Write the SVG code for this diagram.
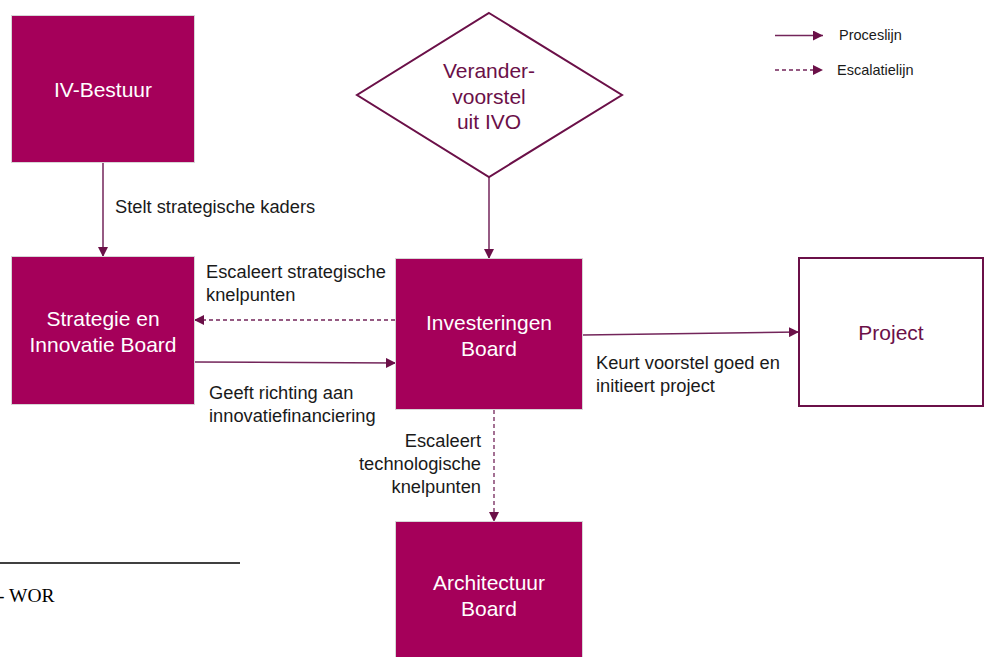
<svg xmlns="http://www.w3.org/2000/svg" width="988" height="657" viewBox="0 0 988 657">
<style>
.box{fill:#a5005a;stroke:#d6d6d6;stroke-width:1}
.nt{font-family:"Liberation Sans",Arial,sans-serif;font-size:21px;fill:#ffffff;text-anchor:middle}
.pt{font-family:"Liberation Sans",Arial,sans-serif;font-size:21px;fill:#6b1048;text-anchor:middle}
.lb{font-family:"Liberation Sans",Arial,sans-serif;font-size:18.3px;fill:#1a1a1a}
.lg{font-family:"Liberation Sans",Arial,sans-serif;font-size:14.5px;fill:#1a1a1a}
.ln{fill:none;stroke:#73255a;stroke-width:1.5}
.dl{fill:none;stroke:#73255a;stroke-width:1.3;stroke-dasharray:4 3}
</style>
<defs>
<marker id="ah" viewBox="0 0 10 10" refX="10" refY="5" markerWidth="10" markerHeight="10" markerUnits="userSpaceOnUse" orient="auto">
<path d="M0,0 L10,5 L0,10 Z" fill="#6b1048"/>
</marker>
</defs>
<rect width="988" height="657" fill="#ffffff"/>
<g id="connectors">
<line class="ln" x1="103" y1="163" x2="103" y2="257" marker-end="url(#ah)"/>
<line class="ln" x1="489" y1="177" x2="489" y2="259" marker-end="url(#ah)"/>
<line class="dl" x1="395" y1="320" x2="194" y2="320" marker-end="url(#ah)"/>
<line class="ln" x1="195" y1="362" x2="396" y2="363" marker-end="url(#ah)"/>
<line class="ln" x1="583" y1="335" x2="799" y2="332" marker-end="url(#ah)"/>
<line class="dl" x1="494" y1="410" x2="494" y2="522" marker-end="url(#ah)"/>
</g>
<g id="legend">
<line class="ln" x1="775" y1="35.5" x2="823" y2="35.5" marker-end="url(#ah)"/>
<text class="lg" x="839" y="40">Proceslijn</text>
<line class="dl" x1="775" y1="70" x2="823" y2="70" marker-end="url(#ah)"/>
<text class="lg" x="837" y="75">Escalatielijn</text>
</g>
<g id="iv-bestuur">
<rect class="box" x="11.5" y="15.5" width="183" height="147"/>
<text class="nt" x="103" y="97">IV-Bestuur</text>
</g>
<g id="strategie">
<rect class="box" x="11.5" y="256.5" width="183" height="148"/>
<text class="nt" x="103" y="326">Strategie en</text>
<text class="nt" x="103" y="352">Innovatie Board</text>
</g>
<g id="verandervoorstel">
<polygon points="489,13 622,95 489,177 357,95" fill="#ffffff" stroke="#6b1048" stroke-width="2"/>
<text class="pt" x="489" y="78">Verander-</text>
<text class="pt" x="489" y="104">voorstel</text>
<text class="pt" x="489" y="129">uit IVO</text>
</g>
<g id="investeringen">
<rect class="box" x="395.5" y="258.5" width="187" height="151"/>
<text class="nt" x="489" y="330">Investeringen</text>
<text class="nt" x="489" y="356">Board</text>
</g>
<g id="architectuur">
<rect class="box" x="395.5" y="521.5" width="187" height="140"/>
<text class="nt" x="489" y="590">Architectuur</text>
<text class="nt" x="489" y="616">Board</text>
</g>
<g id="project">
<rect x="799" y="258" width="184" height="148" fill="#ffffff" stroke="#6b1048" stroke-width="2"/>
<text class="pt" x="891" y="340">Project</text>
</g>
<g id="labels">
<text class="lb" x="115" y="213">Stelt strategische kaders</text>
<text class="lb" x="206" y="278">Escaleert strategische</text>
<text class="lb" x="206" y="301">knelpunten</text>
<text class="lb" x="209" y="399">Geeft richting aan</text>
<text class="lb" x="209" y="422">innovatiefinanciering</text>
<text class="lb" x="481" y="447" text-anchor="end">Escaleert</text>
<text class="lb" x="481" y="470" text-anchor="end">technologische</text>
<text class="lb" x="481" y="493" text-anchor="end">knelpunten</text>
<text class="lb" x="596" y="369">Keurt voorstel goed en</text>
<text class="lb" x="596" y="392">initieert project</text>
</g>
<g id="footnote">
<line x1="0" y1="563" x2="240" y2="563" stroke="#000000" stroke-width="1.5"/>
<text x="-2" y="602" font-family="Liberation Serif,'Times New Roman',serif" font-size="19.5" fill="#000000">- WOR</text>
</g>
</svg>
